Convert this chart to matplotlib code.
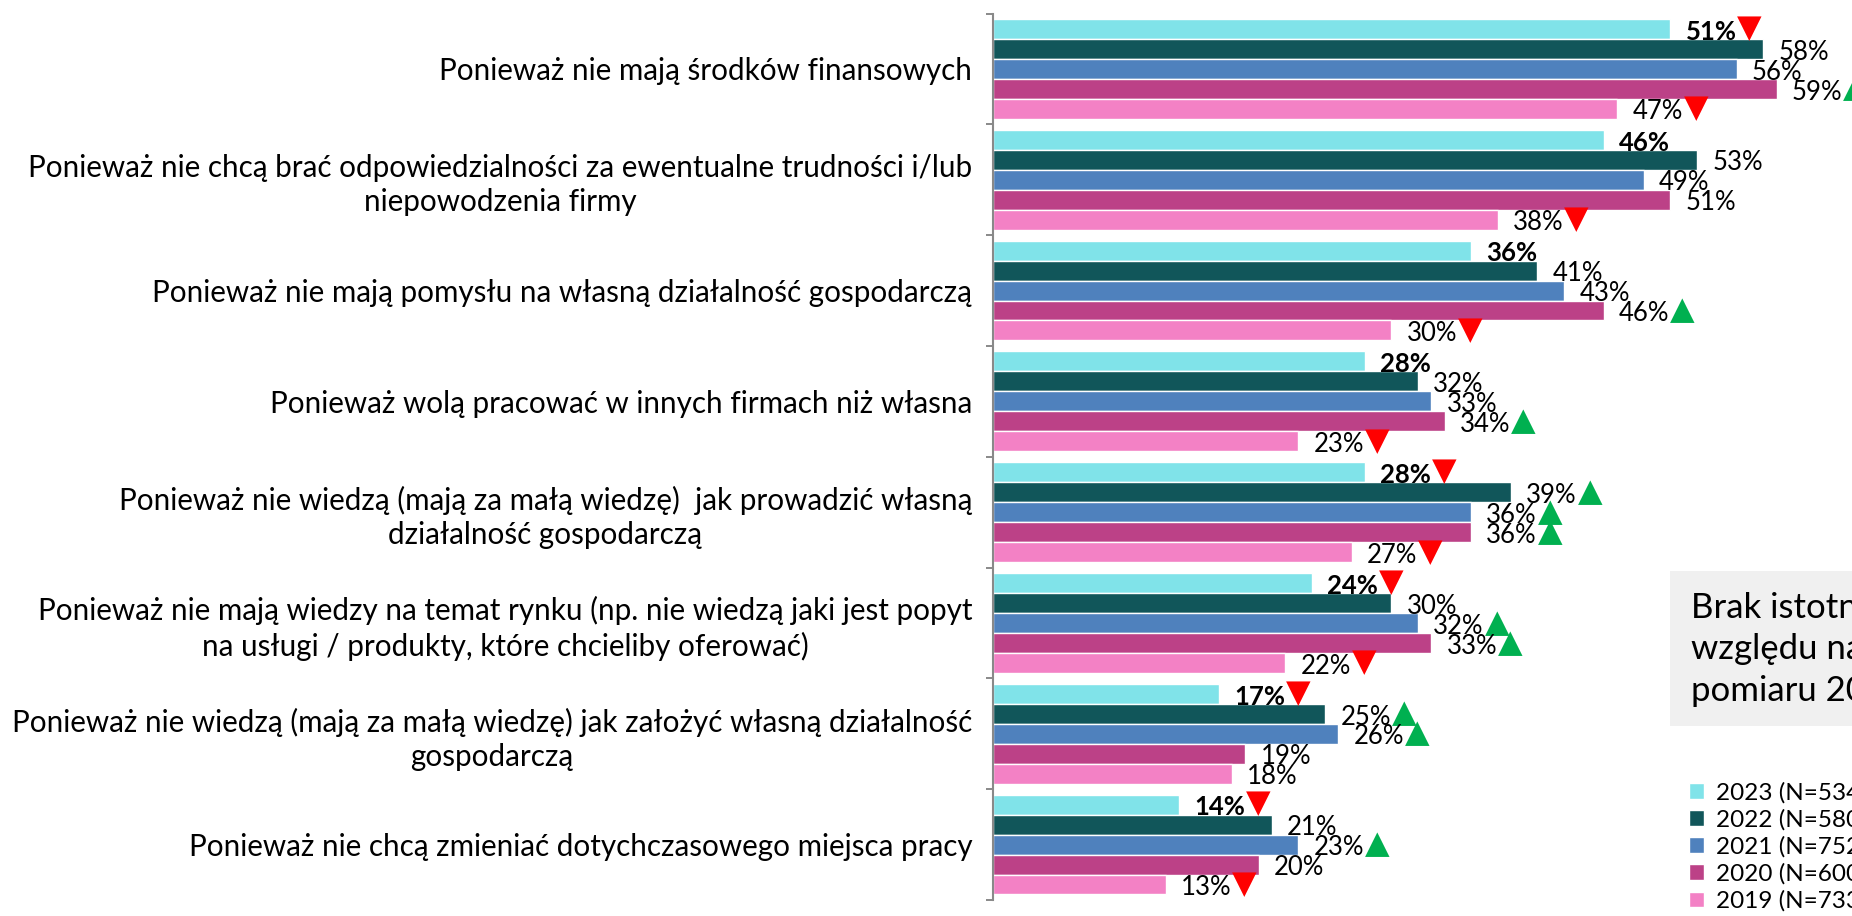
"""Reasons for not starting own business - horizontal grouped bars, 2019-2023."""

import matplotlib

matplotlib.use("Agg")

import matplotlib.pyplot as plt
import numpy as np
from matplotlib.patches import Rectangle

plt.rcParams["font.family"] = ["Lato", "DejaVu Sans"]

CATEGORIES = [
    "Ponieważ nie mają środków finansowych",
    "Ponieważ nie chcą brać odpowiedzialności za ewentualne trudności i/lub\nniepowodzenia firmy",
    "Ponieważ nie mają pomysłu na własną działalność gospodarczą",
    "Ponieważ wolą pracować w innych firmach niż własna",
    "Ponieważ nie wiedzą (mają za małą wiedzę)  jak prowadzić własną\ndziałalność gospodarczą",
    "Ponieważ nie mają wiedzy na temat rynku (np. nie wiedzą jaki jest popyt\nna usługi / produkty, które chcieliby oferować)",
    "Ponieważ nie wiedzą (mają za małą wiedzę) jak założyć własną działalność\ngospodarczą",
    "Ponieważ nie chcą zmieniać dotychczasowego miejsca pracy",
]
YEARS = ["2023 (N=534)", "2022 (N=580)", "2021 (N=752)", "2020 (N=600)", "2019 (N=733)"]
V2023 = [51, 46, 36, 28, 28, 24, 17, 14]
V2022 = [58, 53, 41, 32, 39, 30, 25, 21]
V2021 = [56, 49, 43, 33, 36, 32, 26, 23]
V2020 = [59, 51, 46, 34, 36, 33, 19, 20]
V2019 = [47, 38, 30, 23, 27, 22, 18, 13]
# significance vs. the other measurements: 1 = up, -1 = down, 0 = none
SIG2023 = [-1, 0, 0, 0, -1, -1, -1, -1]
SIG2022 = [0, 0, 0, 0, 1, 0, 1, 0]
SIG2021 = [0, 0, 0, 0, 1, 1, 1, 1]
SIG2020 = [1, 0, 1, 1, 1, 1, 0, 0]
SIG2019 = [-1, -1, -1, -1, -1, -1, 0, -1]
NOTE = "Brak istotnych różnic ze\nwzględu na płeć w\npomiaru 2023 r."

COLORS = ["#80E3E9", "#11565A", "#4F81BD", "#BC4187", "#F381C5"]
W, H = 1852, 916

fig = plt.figure(figsize=(W / 100, H / 100), dpi=100)
ax = fig.add_axes([993 / W, 16 / H, (W - 993) / W, 886.5 / H])

series = zip(YEARS, [V2023, V2022, V2021, V2020, V2019],
             [SIG2023, SIG2022, SIG2021, SIG2020, SIG2019], COLORS)
y = np.arange(len(CATEGORIES))
h = 0.18
for i, (year, vals, sig, color) in enumerate(series):
    pos = y + (i - 2) * h
    ax.barh(pos, vals, height=h, color=color, edgecolor="white", linewidth=1, label=year)
    for v, p, s in zip(vals, pos, sig):
        lbl = ax.annotate(f"{v}%", xy=(v, p), xytext=(11, -7.7), textcoords="offset points",
                          ha="left", va="baseline", fontsize=18.5,
                          fontweight="bold" if i == 0 else "normal")
        if s:
            ax.annotate("▲" if s > 0 else "▼", xy=(1, 0), xycoords=lbl,
                        xytext=(0.5, 0), textcoords="offset points", ha="left", va="bottom",
                        fontsize=23, family="DejaVu Sans",
                        color="#00B050" if s > 0 else "#FF0000")

ax.set_xlim(0, (W - 993) / 13.28)
ax.set_ylim(len(CATEGORIES) - 0.5, -0.5)
ax.set_xticks([])
ax.set_yticks(y)
ax.set_yticklabels(CATEGORIES, fontsize=21.3, multialignment="center", linespacing=1.27)
ax.set_yticks(np.arange(-0.5, len(CATEGORIES)), minor=True)
ax.tick_params(axis="y", which="major", length=0, pad=15)
ax.tick_params(axis="y", which="minor", length=5, width=1.4, color="#898989")
for side in ["top", "right", "bottom"]:
    ax.spines[side].set_visible(False)
ax.spines["left"].set_color("#898989")
ax.spines["left"].set_linewidth(1.5)

fig.patches.append(Rectangle((1670 / W, (H - 726) / H), 0.2, 155 / H,
                             transform=fig.transFigure, facecolor="#F0F0F0", edgecolor="none"))
fig.text(1691 / W, (H - 592) / H, NOTE, fontsize=25, va="top", ha="left", linespacing=1.36)

ax.legend(loc="upper left", bbox_to_anchor=(1689 / W, (H - 782) / H),
          bbox_transform=fig.transFigure, frameon=False, fontsize=17.5,
          handlelength=0.62, handleheight=0.62, handletextpad=0.5, labelspacing=0.23,
          borderaxespad=0, borderpad=0)

fig.savefig("out.png", dpi=100)
